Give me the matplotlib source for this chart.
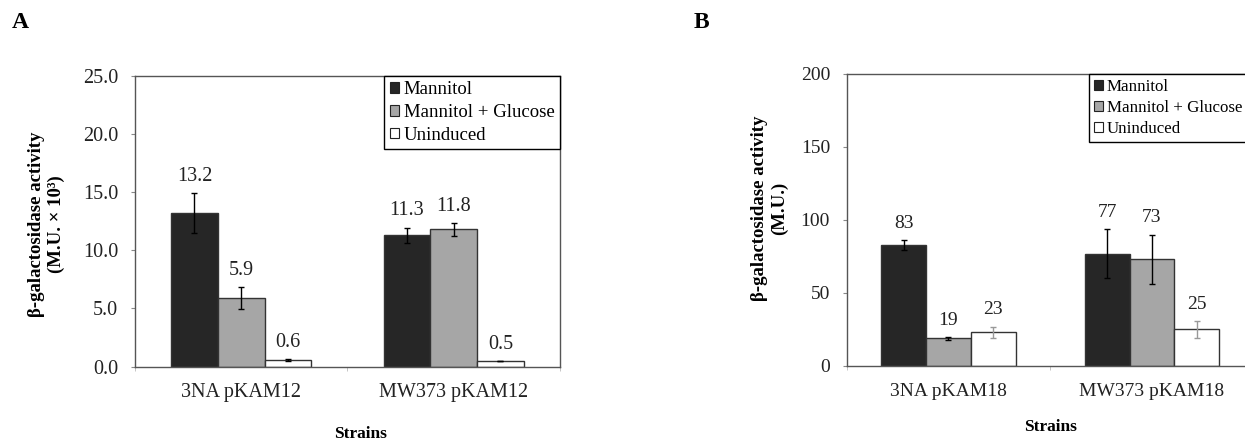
import matplotlib.pyplot as plt
import numpy as np

plt.rcParams['font.family'] = ['Liberation Serif', 'DejaVu Serif']

series = ['Mannitol', 'Mannitol + Glucose', 'Uninduced']
colors = ['#262626', '#a6a6a6', '#ffffff']

# Panel A (M.U. x 10^3)
strains_a = ['3NA pKAM12', 'MW373 pKAM12']
vals_a = [[13.2, 11.3], [5.9, 11.8], [0.6, 0.5]]
errs_a = [[1.7, 0.65], [0.95, 0.55], [0.08, 0.0]]

# Panel B (M.U.)
strains_b = ['3NA pKAM18', 'MW373 pKAM18']
vals_b = [[83, 77], [19, 73], [23, 25]]
errs_b = [[3.5, 17], [1.0, 17], [4, 6]]


def draw_panel(ax, strains, vals, errs, ymax, ystep, fmt, ylabel, ylab_x, ylab_y,
               xlab_x, xlab_y, fs, legfs, leg_x):
    x = np.arange(len(strains))
    w = 0.22
    for i, name in enumerate(series):
        pos = x + (i - 1) * w
        ecol = '#999999' if i == 2 and ymax > 50 else 'black'
        ax.bar(pos, vals[i], w, color=colors[i], edgecolor='#333333', linewidth=1.0,
               label=name, zorder=2)
        ax.errorbar(pos, vals[i], yerr=errs[i], fmt='none', ecolor=ecol,
                    elinewidth=1.0, capsize=2, capthick=1.0, zorder=3)
        for p, v, e in zip(pos, vals[i], errs[i]):
            ax.annotate(fmt.format(v), (p, v + e), xytext=(0, 12), textcoords='offset points',
                        ha='center', va='center', fontsize=fs, color='#222222')

    ax.set_xlim(-0.5, len(strains) - 0.5)
    ax.set_ylim(0, ymax)
    yt = np.arange(0, ymax + ystep / 2, ystep)
    ax.set_yticks(yt)
    ax.set_yticklabels([fmt.format(t) for t in yt])
    ax.set_xticks(x)
    ax.set_xticklabels(strains)
    ax.set_xticks(np.arange(len(strains) + 1) - 0.5, minor=True)
    ax.tick_params(axis='x', which='major', length=0, pad=12, labelsize=fs, labelcolor='#222222')
    ax.tick_params(axis='x', which='minor', length=3, color='#bbbbbb', direction='out')
    ax.tick_params(axis='y', length=3, color='#888888', pad=9, labelsize=fs, labelcolor='#222222')
    for s in ax.spines.values():
        s.set_color('#555555')
        s.set_linewidth(1.0)

    ax.set_ylabel(ylabel, fontsize=13.5, fontweight='bold', linespacing=1.2)
    ax.yaxis.set_label_coords(ylab_x, ylab_y)
    ax.set_xlabel('Strains', fontsize=12.5, fontweight='bold')
    ax.xaxis.set_label_coords(xlab_x, xlab_y)

    leg = ax.legend(loc='upper right', bbox_to_anchor=(leg_x, 1), borderaxespad=0,
                    fontsize=legfs, fancybox=False, framealpha=1, edgecolor='black',
                    handlelength=0.5, handleheight=0.5, handletextpad=0.25,
                    labelspacing=0.3, borderpad=0.3)
    leg.get_frame().set_linewidth(1.0)
    for h in leg.legend_handles:
        h.set_edgecolor('#222222')
        h.set_linewidth(0.8)


fig = plt.figure(figsize=(12.45, 4.41), dpi=100)
ax_a = fig.add_axes([0.1084, 0.1685, 0.3414, 0.6599])
ax_b = fig.add_axes([0.6801, 0.1701, 0.3269, 0.6621])

draw_panel(ax_a, strains_a, vals_a, errs_a, 25, 5, '{:.1f}',
           'β-galactosidase activity\n(M.U. × 10³)', -0.165, 0.49, 0.53, -0.205, 14.5, 13.5, 1.0)
draw_panel(ax_b, strains_b, vals_b, errs_b, 200, 50, '{:.0f}',
           'β-galactosidase activity\n(M.U.)', -0.144, 0.54, 0.5, -0.18, 14, 12.2, 0.985)

fig.text(0.0096, 1 - 23 / 441, 'A', fontsize=17, fontweight='bold', va='center')
fig.text(0.557, 1 - 23 / 441, 'B', fontsize=17, fontweight='bold', va='center')

fig.savefig('out.png', dpi=100)
